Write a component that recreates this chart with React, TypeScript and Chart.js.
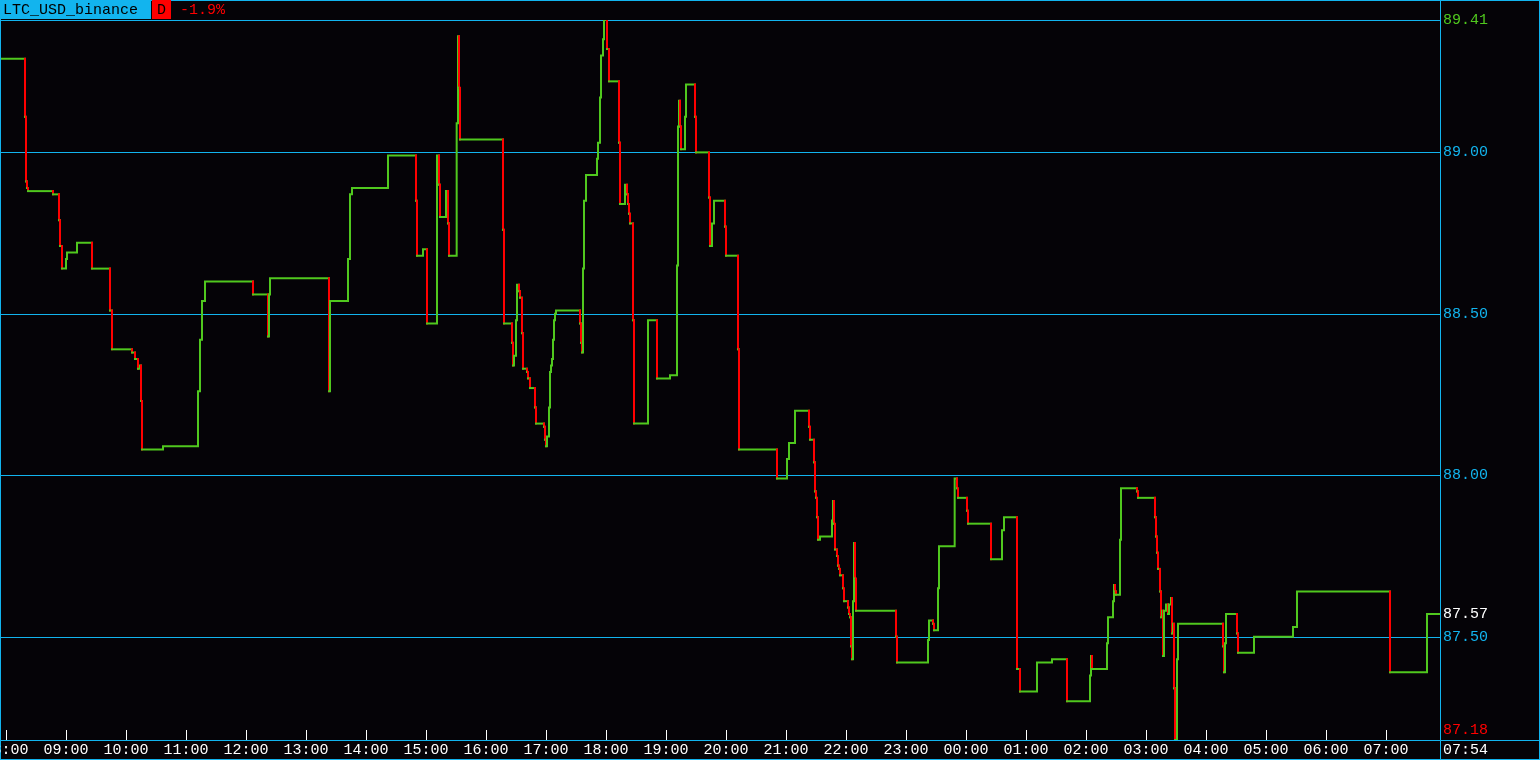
import React, { useEffect, useRef } from "react";
import { Chart, registerables } from "chart.js";

Chart.register(...registerables);

const SYMBOL = "LTC_USD_binance";
const PERIOD = "D";
const CHANGE = "-1.9%";

// time of each price change (HH:MM, 24h, spans from previous morning to this morning)
const times: string[] = [
  "07:55", "08:19", "08:20", "08:21", "08:22", "08:47", "08:53", "08:54", "08:56", "09:00",
  "09:01", "09:11", "09:26", "09:44", "09:46", "10:06", "10:09", "10:12", "10:14", "10:15",
  "10:16", "10:37", "11:12", "11:14", "11:16", "11:19", "12:07", "12:22", "12:23", "12:24",
  "13:23", "13:24", "13:42", "13:44", "13:46", "14:22", "14:50", "14:51", "14:57", "15:01",
  "15:11", "15:13", "15:14", "15:20", "15:22", "15:23", "15:30", "15:31", "15:32", "15:33",
  "15:34", "16:17", "16:18", "16:26", "16:27", "16:28", "16:30", "16:31", "16:33", "16:34",
  "16:36", "16:37", "16:41", "16:42", "16:44", "16:49", "16:50", "16:58", "16:59", "17:00",
  "17:01", "17:03", "17:04", "17:05", "17:06", "17:07", "17:08", "17:09", "17:10", "17:34",
  "17:35", "17:36", "17:37", "17:38", "17:40", "17:51", "17:52", "17:54", "17:55", "17:57",
  "17:58", "18:01", "18:03", "18:13", "18:14", "18:19", "18:21", "18:22", "18:23", "18:24",
  "18:27", "18:28", "18:42", "18:51", "19:04", "19:11", "19:12", "19:13", "19:14", "19:15",
  "19:19", "19:20", "19:29", "19:30", "19:43", "19:44", "19:46", "19:48", "19:59", "20:00",
  "20:12", "20:13", "20:51", "21:01", "21:03", "21:09", "21:23", "21:24", "21:28", "21:29",
  "21:30", "21:31", "21:32", "21:34", "21:46", "21:47", "21:48", "21:49", "21:51", "21:52",
  "21:53", "21:54", "21:57", "21:58", "22:02", "22:03", "22:04", "22:05", "22:06", "22:07",
  "22:08", "22:09", "22:10", "22:50", "22:51", "23:22", "23:23", "23:27", "23:28", "23:32",
  "23:33", "23:48", "23:49", "23:51", "23:52", "00:01", "00:02", "00:25", "00:36", "00:38",
  "00:51", "00:54", "01:11", "01:26", "01:41", "02:04", "02:05", "02:06", "02:21", "02:22",
  "02:27", "02:28", "02:29", "02:30", "02:34", "02:35", "02:51", "02:52", "03:09", "03:10",
  "03:11", "03:12", "03:14", "03:15", "03:16", "03:17", "03:18", "03:20", "03:22", "03:23",
  "03:25", "03:26", "03:27", "03:28", "03:29", "03:31", "03:32", "04:17", "04:18", "04:19",
  "04:20", "04:31", "04:32", "04:48", "05:27", "05:31", "07:04", "07:41", "07:54",
];

// price after each change
const prices: number[] = [
  89.29, 89.11, 88.91, 88.89, 88.88, 88.87, 88.79, 88.71, 88.64, 88.67,
  88.69, 88.72, 88.64, 88.51, 88.39, 88.38, 88.36, 88.33, 88.34, 88.23,
  88.08, 88.09, 88.26, 88.42, 88.54, 88.60, 88.56, 88.43, 88.56, 88.61,
  88.26, 88.54, 88.67, 88.87, 88.89, 88.99, 88.85, 88.68, 88.70, 88.47,
  88.99, 88.90, 88.80, 88.88, 88.78, 88.68, 88.76, 89.09, 89.36, 89.20,
  89.04, 88.76, 88.47, 88.41, 88.34, 88.37, 88.48, 88.59, 88.57, 88.55,
  88.44, 88.33, 88.32, 88.30, 88.27, 88.21, 88.16, 88.15, 88.11, 88.09,
  88.12, 88.21, 88.32, 88.34, 88.36, 88.42, 88.48, 88.50, 88.51, 88.47,
  88.41, 88.38, 88.64, 88.85, 88.93, 88.98, 89.03, 89.17, 89.30, 89.35,
  89.41, 89.32, 89.22, 89.03, 88.84, 88.90, 88.87, 88.84, 88.81, 88.78,
  88.48, 88.16, 88.48, 88.30, 88.31, 88.65, 89.08, 89.16, 89.08, 89.01,
  89.11, 89.21, 89.11, 89.00, 88.86, 88.71, 88.78, 88.85, 88.77, 88.68,
  88.39, 88.08, 87.99, 88.05, 88.10, 88.20, 88.15, 88.11, 88.04, 87.95,
  87.93, 87.87, 87.80, 87.81, 87.86, 87.92, 87.85, 87.77, 87.75, 87.72,
  87.71, 87.69, 87.65, 87.61, 87.59, 87.57, 87.56, 87.47, 87.43, 87.61,
  87.79, 87.68, 87.58, 87.50, 87.42, 87.49, 87.55, 87.54, 87.52, 87.65,
  87.78, 87.88, 87.99, 87.96, 87.93, 87.89, 87.85, 87.74, 87.83, 87.87,
  87.40, 87.33, 87.42, 87.43, 87.30, 87.38, 87.44, 87.40, 87.48, 87.56,
  87.61, 87.66, 87.64, 87.63, 87.80, 87.96, 87.95, 87.93, 87.87, 87.81,
  87.76, 87.71, 87.64, 87.56, 87.58, 87.44, 87.58, 87.60, 87.57, 87.60,
  87.62, 87.51, 87.54, 87.34, 87.18, 87.43, 87.54, 87.47, 87.39, 87.48,
  87.57, 87.51, 87.45, 87.50, 87.53, 87.64, 87.39, 87.57, 87.57,
];

const priceGridLevels: number[] = [89.0, 88.5, 88.0, 87.5];
const hourLabels: string[] = [
  "08:00", "09:00", "10:00", "11:00", "12:00", "13:00", "14:00", "15:00",
  "16:00", "17:00", "18:00", "19:00", "20:00", "21:00", "22:00", "23:00",
  "00:00", "01:00", "02:00", "03:00", "04:00", "05:00", "06:00", "07:00",
];
const lastTimeLabel = "07:54";

const CYAN = "#12b4ee";
const GREEN = "#50c81e";
const RED = "#ff0000";
const WHITE = "#ffffff";
const BG = "#050307";
const FONT = '15px "Liberation Mono", "DejaVu Sans Mono", monospace';

function toMinutes(t: string, idx: number): number {
  const [h, m] = t.split(":").map(Number);
  let v = h * 60 + m - 480;
  if (idx > 0 && v < 0) v += 1440;
  return v;
}

export default function App() {
  const ref = useRef<HTMLCanvasElement | null>(null);

  useEffect(() => {
    document.body.style.margin = "0";
    document.body.style.background = BG;
    const canvas = ref.current;
    if (!canvas) return;

    const xs = times.map((t, i) => toMinutes(t, i));
    const points: { x: number; y: number }[] = [];
    for (let i = 0; i < xs.length; i++) {
      if (i > 0) points.push({ x: xs[i], y: prices[i - 1] });
      points.push({ x: xs[i], y: prices[i] });
    }
    const maxP = Math.max(...prices);
    const minP = Math.min(...prices);
    const lastP = prices[prices.length - 1];
    const xMin = xs[0];
    const xMax = toMinutes(lastTimeLabel, 1);

    const fmt = (v: number) => v.toFixed(2);

    const decor = {
      id: "decor",
      beforeDraw(chart: any) {
        const c = chart.ctx;
        c.save();
        c.fillStyle = BG;
        c.fillRect(0, 0, chart.width, chart.height);
        c.restore();
      },
      beforeDatasetsDraw(chart: any) {
        const c = chart.ctx;
        const { right, top, bottom } = chart.chartArea;
        const ys = chart.scales.y;
        const xsScale = chart.scales.x;
        c.save();
        c.lineWidth = 1;
        c.strokeStyle = CYAN;
        for (const lv of priceGridLevels) {
          const y = Math.round(ys.getPixelForValue(lv)) + 0.5;
          c.beginPath();
          c.moveTo(0, y);
          c.lineTo(right, y);
          c.stroke();
        }
        c.beginPath();
        c.moveTo(0, top + 0.5);
        c.lineTo(right, top + 0.5);
        c.stroke();
        c.strokeStyle = WHITE;
        for (const h of hourLabels) {
          const x = Math.round(xsScale.getPixelForValue(toMinutes(h, 1))) + 0.5;
          c.beginPath();
          c.moveTo(x, bottom - 10);
          c.lineTo(x, bottom);
          c.stroke();
        }
        c.restore();
      },
      afterDraw(chart: any) {
        const c = chart.ctx;
        const { right, top, bottom } = chart.chartArea;
        const W = chart.width;
        const H = chart.height;
        const ys = chart.scales.y;
        const xsScale = chart.scales.x;
        c.save();
        c.strokeStyle = CYAN;
        c.lineWidth = 1;
        const hline = (y: number, x0: number, x1: number) => {
          c.beginPath();
          c.moveTo(x0, y);
          c.lineTo(x1, y);
          c.stroke();
        };
        const vline = (x: number, y0: number, y1: number) => {
          c.beginPath();
          c.moveTo(x, y0);
          c.lineTo(x, y1);
          c.stroke();
        };
        hline(0.5, 0, W);
        hline(bottom + 0.5, 0, W);
        hline(H - 0.5, 0, W);
        vline(0.5, 0, H);
        vline(right + 0.5, 0, H);
        vline(W - 0.5, 0, H);

        c.font = FONT;
        c.textBaseline = "middle";
        c.fillStyle = CYAN;
        c.fillRect(0, 0, 151, 19);
        c.fillStyle = RED;
        c.fillRect(152, 0, 19, 19);
        c.textAlign = "left";
        c.fillStyle = "#000000";
        c.fillText(SYMBOL, 3, 10);
        c.fillText(PERIOD, 157, 10);
        c.fillStyle = RED;
        c.fillText(CHANGE, 180, 10);

        const lx = right + 3;
        const drawPrice = (v: number, color: string) => {
          let y = ys.getPixelForValue(v);
          y = Math.max(top, Math.min(bottom - 10, y));
          c.fillStyle = color;
          c.fillText(fmt(v), lx, y);
        };
        for (const lv of priceGridLevels) drawPrice(lv, CYAN);
        drawPrice(maxP, GREEN);
        drawPrice(minP, RED);
        drawPrice(lastP, WHITE);

        c.fillStyle = WHITE;
        c.textAlign = "center";
        const ly = (bottom + H) / 2;
        for (const h of hourLabels) {
          const x = xsScale.getPixelForValue(toMinutes(h, 1));
          c.fillText(h, x, ly);
        }
        c.textAlign = "left";
        c.fillText(lastTimeLabel, lx, ly);
        c.restore();
      },
    };

    const chart = new Chart(canvas, {
      type: "line",
      data: {
        datasets: [
          {
            data: points,
            borderWidth: 2,
            borderColor: GREEN,
            pointRadius: 0,
            fill: false,
            tension: 0,
            borderCapStyle: "square",
            segment: {
              borderColor: (ctx: any) =>
                ctx.p1.parsed.y < ctx.p0.parsed.y ? RED : GREEN,
            },
          } as any,
        ],
      },
      options: {
        animation: false,
        responsive: false,
        devicePixelRatio: 1,
        events: [],
        layout: { padding: { left: 1, right: 100, top: 20, bottom: 20 }, autoPadding: false } as any,
        scales: {
          x: { type: "linear", min: xMin, max: xMax, display: false },
          y: { type: "linear", min: 87.18, max: 89.41, display: false },
        },
        plugins: { legend: { display: false }, tooltip: { enabled: false } },
      },
      plugins: [decor],
    });

    return () => chart.destroy();
  }, []);

  return (
    <div style={{ position: "fixed", left: 0, top: 0, width: 1540, height: 760, background: BG }}>
      <canvas ref={ref} width={1540} height={760} style={{ width: 1540, height: 760, display: "block" }} />
    </div>
  );
}
